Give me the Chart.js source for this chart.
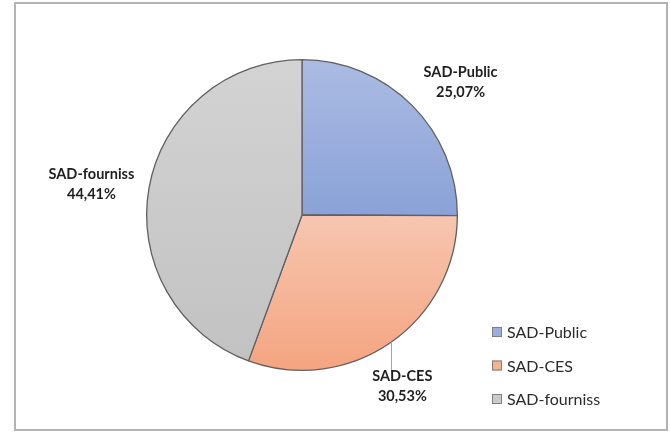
<!DOCTYPE html>
<html>
<head>
<meta charset="utf-8">
<script src="https://cdn.jsdelivr.net/npm/chart.js@4"></script>
<style>
  body { margin: 0; background: #fff; }
  #cadre { position: absolute; left: 0; top: 0; width: 670px; height: 433px; }
  .bord { position: absolute; left: 14px; top: 2px; width: 650px; height: 425px; border: 2px solid #b3b3b3; }
  canvas { position: absolute; left: 0; top: 0; }
</style>
</head>
<body>
<div id="cadre">
  <div class="bord"></div>
  <canvas id="graficoPie" width="670" height="433"></canvas>
</div>
<script>
// données du graphique
const categories = ['SAD-Public', 'SAD-CES', 'SAD-fourniss']
const valeurs = [25.07, 30.53, 44.41]
const etiquettes = ['25,07%', '30,53%', '44,41%']

// couleurs (haut / bas du dégradé)
const couleursHaut = ['#abbbe3', '#f7c6b0', '#d3d3d3']
const couleursBas = ['#8aa2d8', '#f4a480', '#c2c2c2']
const couleursLegende = ['#98addd', '#f5b293', '#cacaca']

// placement des étiquettes : [décalage angle (deg), facteur de rayon]
const placementEtiquettes = [[5, 1.33], [4.5, 1.28], [-1.7, 1.37]]
const avecLigne = [false, true, false]

// dégradé vertical par part
const degradePlugin = {
  id: 'degrade',
  beforeDatasetsDraw(chart) {
    const ctx = chart.ctx
    chart.getDatasetMeta(0).data.forEach((arc, i) => {
      let minY = arc.y, maxY = arc.y
      for (let k = 0; k <= 60; k++) {
        const a = arc.startAngle + (arc.endAngle - arc.startAngle) * k / 60
        const y = arc.y + Math.sin(a) * arc.outerRadius
        minY = Math.min(minY, y)
        maxY = Math.max(maxY, y)
      }
      const g = ctx.createLinearGradient(0, minY, 0, maxY)
      g.addColorStop(0, couleursHaut[i])
      g.addColorStop(1, couleursBas[i])
      arc.options.backgroundColor = g
    })
  }
}

// étiquettes de données + ligne de rappel + légende
const etiquettesPlugin = {
  id: 'etiquettes',
  afterDatasetsDraw(chart) {
    const ctx = chart.ctx
    ctx.save()
    ctx.textAlign = 'center'
    ctx.textBaseline = 'middle'
    chart.getDatasetMeta(0).data.forEach((arc, i) => {
      const mid = (arc.startAngle + arc.endAngle) / 2 + placementEtiquettes[i][0] * Math.PI / 180
      const d = arc.outerRadius * placementEtiquettes[i][1]
      const x = arc.x + Math.cos(mid) * d
      const y = arc.y + Math.sin(mid) * d
      if (avecLigne[i]) {
        const lx = Math.round(x - 11) + 0.5
        const dx = lx - arc.x
        const y0 = arc.y + Math.sqrt(arc.outerRadius * arc.outerRadius - dx * dx)
        ctx.strokeStyle = '#a6a6a6'
        ctx.lineWidth = 1
        ctx.beginPath()
        ctx.moveTo(lx, y0)
        ctx.lineTo(lx, y - 14)
        ctx.stroke()
      }
      ctx.fillStyle = '#1f1f1f'
      ctx.font = 'bold 14.5px Lato'
      ctx.fillText(categories[i], x, y - 10)
      ctx.fillText(etiquettes[i], x, y + 10)
    })

    // légende
    ctx.textAlign = 'left'
    ctx.font = '16px Lato'
    categories.forEach((c, i) => {
      const y = 332 + i * 33.5
      ctx.fillStyle = couleursLegende[i]
      ctx.fillRect(492, y - 5, 10, 10)
      ctx.strokeStyle = '#7f7f7f'
      ctx.lineWidth = 1
      ctx.strokeRect(492.5, y - 4.5, 9, 9)
      ctx.fillStyle = '#2b2b2b'
      ctx.fillText(c, 507, y + 1)
    })
    ctx.restore()
  }
}

const ctxPie = document.getElementById('graficoPie').getContext('2d')
const graficoPie = new Chart(ctxPie, {
  type: 'pie',
  data: {
    labels: categories,
    datasets: [{
      data: valeurs,
      backgroundColor: couleursBas,
      borderColor: '#606060',
      borderWidth: 1.3
    }]
  },
  options: {
    responsive: false,
    animation: false,
    layout: { padding: { left: 146, right: 212, top: 59, bottom: 62 } },
    plugins: {
      legend: { display: false },
      tooltip: { enabled: false }
    }
  },
  plugins: [degradePlugin, etiquettesPlugin]
})
</script>
</body>
</html>
